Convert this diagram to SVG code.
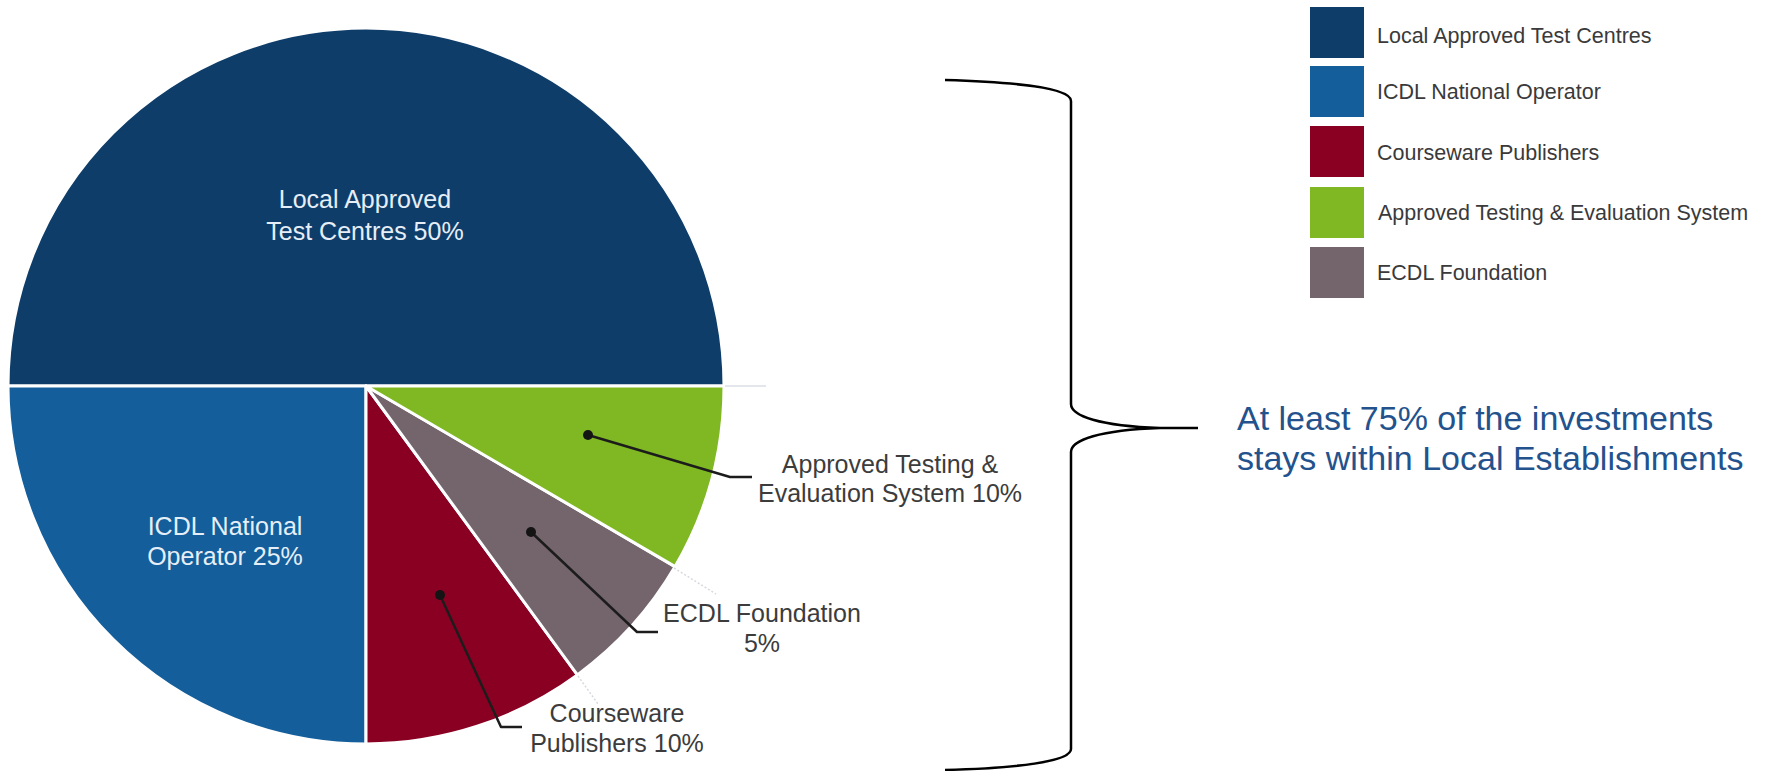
<svg xmlns="http://www.w3.org/2000/svg" width="1766" height="771" viewBox="0 0 1766 771">
  <style>
    text { font-family: "Liberation Sans", Arial, Helvetica, sans-serif; }
    .slice { stroke: #ffffff; stroke-width: 3; stroke-linejoin: round; }
    .inlbl { fill: #e6eef7; font-size: 25px; text-anchor: middle; }
    .outlbl { fill: #3c3c3c; font-size: 25px; text-anchor: middle; }
    .leglbl { fill: #3a3a3a; font-size: 21.5px; }
    .leader { fill: none; stroke: #1c1c1c; stroke-width: 2.5; stroke-linejoin: round; }
    .dot { fill: #141414; }
    .faint { fill: none; stroke: #d6d9de; stroke-width: 1.5; stroke-dasharray: 2 2; }
    .brace { fill: none; stroke: #000000; stroke-width: 2.5; }
    .note { fill: #23528d; font-size: 34px; }
  </style>
  <rect width="1766" height="771" fill="#ffffff"/>

  <g id="slice-local">
    <path class="slice" fill="#0e3d6a" d="M366,386 L8,386 A358,358 0 0 1 724,386 Z"/>
    <text class="inlbl" x="365" y="208">Local Approved</text>
    <text class="inlbl" x="365" y="240">Test Centres 50%</text>
  </g>
  <g id="slice-icdl">
    <path class="slice" fill="#135e9b" d="M366,386 L366,744 A358,358 0 0 1 8,386 Z"/>
    <text class="inlbl" x="225" y="535">ICDL National</text>
    <text class="inlbl" x="225" y="565">Operator 25%</text>
  </g>
  <g id="slice-courseware">
    <path class="slice" fill="#890023" d="M366,386 L577.4,674.9 A358,358 0 0 1 366,744 Z"/>
    <text class="outlbl" x="617" y="722">Courseware</text>
    <text class="outlbl" x="617" y="752">Publishers 10%</text>
  </g>
  <g id="slice-ecdl">
    <path class="slice" fill="#74656d" d="M366,386 L675.1,566.6 A358,358 0 0 1 577.4,674.9 Z"/>
    <text class="outlbl" x="762" y="622">ECDL Foundation</text>
    <text class="outlbl" x="762" y="652">5%</text>
  </g>
  <g id="slice-testing">
    <path class="slice" fill="#7fb823" d="M366,386 L724,386 A358,358 0 0 1 675.1,566.6 Z"/>
    <text class="outlbl" x="890" y="473">Approved Testing &amp;</text>
    <text class="outlbl" x="890" y="502">Evaluation System 10%</text>
  </g>

  <g id="connectors">
    <line x1="725" y1="386" x2="766" y2="386" stroke="#e3e6ea" stroke-width="2"/>
    <line class="faint" x1="674" y1="568" x2="716" y2="594"/>
    <line class="faint" x1="578" y1="676" x2="598" y2="704"/>
    <polyline class="leader" points="588,435 730,477 752,477"/>
    <circle class="dot" cx="588" cy="435" r="5"/>
    <polyline class="leader" points="531,532 637,632 658,632"/>
    <circle class="dot" cx="531" cy="532" r="5"/>
    <polyline class="leader" points="440,595 501,727 522,727"/>
    <circle class="dot" cx="440" cy="595" r="5"/>
    <path class="brace" d="M945,80 C1015,82 1071,88 1071,101 L1071,404 C1071,416 1100,426 1160,428 L1198,428 M1160,428 C1100,430 1071,440 1071,452 L1071,749 C1071,762 1015,768 945,770"/>
  </g>

  <g id="note">
    <text class="note" x="1237" y="430">At least 75% of the investments</text>
    <text class="note" x="1237" y="470">stays within Local Establishments</text>
  </g>

  <g id="legend">
    <rect x="1310" y="7" width="54" height="51" fill="#0e3d6a"/>
    <text class="leglbl" x="1377" y="43">Local Approved Test Centres</text>
    <rect x="1310" y="66" width="54" height="51" fill="#135e9b"/>
    <text class="leglbl" x="1377" y="99">ICDL National Operator</text>
    <rect x="1310" y="126" width="54" height="51" fill="#890023"/>
    <text class="leglbl" x="1377" y="160">Courseware Publishers</text>
    <rect x="1310" y="187" width="54" height="51" fill="#7fb823"/>
    <text class="leglbl" x="1378" y="220">Approved Testing &amp; Evaluation System</text>
    <rect x="1310" y="247" width="54" height="51" fill="#74656d"/>
    <text class="leglbl" x="1377" y="280">ECDL Foundation</text>
  </g>
</svg>
